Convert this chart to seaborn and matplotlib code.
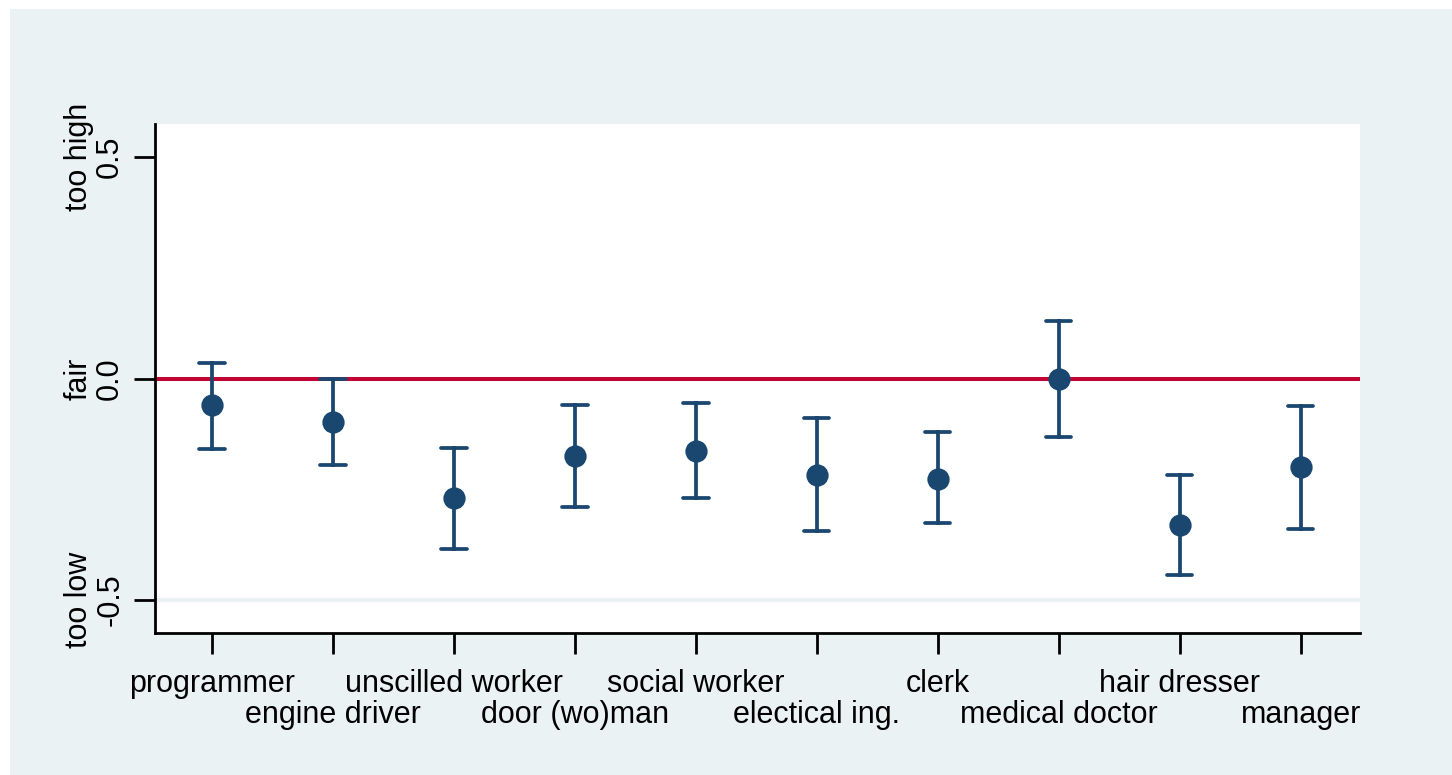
import matplotlib
matplotlib.use("Agg")
import matplotlib.pyplot as plt
import seaborn as sns
import pandas as pd

# occupation categories and estimated means with 95% CI bounds
jobs = ["programmer", "engine driver", "unscilled worker", "door (wo)man",
        "social worker", "electical ing.", "clerk", "medical doctor",
        "hair dresser", "manager"]
means = [-0.061, -0.099, -0.271, -0.174, -0.163, -0.219, -0.226, -0.002, -0.332, -0.201]
lower = [-0.160, -0.196, -0.386, -0.291, -0.271, -0.345, -0.327, -0.133, -0.445, -0.341]
upper = [0.036, 0.000, -0.158, -0.059, -0.056, -0.090, -0.122, 0.131, -0.219, -0.063]

ytick_vals = [-0.5, 0.0, 0.5]
ytick_text = ["too low\n-0.5", "fair\n0.0", "too high\n0.5"]

navy = "#1A476F"
red = "#C10534"
bg = "#EAF2F3"

# long table: point = median of (lower, mean, upper), bars = min/max
rows = []
for j, lo, m, up in zip(jobs, lower, means, upper):
    for v in (lo, m, up):
        rows.append({"job": j, "value": v})
df = pd.DataFrame(rows)

sns.set_style("white")
plt.rcParams["font.family"] = ["Liberation Sans", "DejaVu Sans"]
plt.rcParams["text.color"] = "black"
plt.rcParams["xtick.color"] = "black"
plt.rcParams["ytick.color"] = "black"

fig = plt.figure(figsize=(14.52, 7.75), dpi=100, facecolor="white")
fig.patches.append(plt.Rectangle((10 / 1452, 0), 1 - 10 / 1452, 1 - 9 / 775,
                                 transform=fig.transFigure, facecolor=bg,
                                 edgecolor="none", zorder=-10))
ax = fig.add_axes([155 / 1452, 1 - 633 / 775, 1205 / 1452, 509 / 775])
ax.set_facecolor("white")

ax.axhline(-0.5, color=bg, linewidth=3, zorder=0)
ax.axhline(0, color=red, linewidth=2.9, zorder=1)

sns.pointplot(data=df, x="job", y="value", order=jobs, estimator="median",
              errorbar=lambda v: (v.min(), v.max()), linestyle="none",
              markers="o", markersize=14, color=navy, capsize=0.21,
              err_kws={"linewidth": 2.7}, ax=ax, zorder=3)

ax.set_xlim(-0.47, 9.49)
ax.set_ylim(-0.575, 0.575)

ax.set_xticks(range(len(jobs)))
ax.set_xticklabels(jobs, fontsize=22, color="black")
ax.set_yticks(ytick_vals)
ax.set_yticklabels(ytick_text, rotation=90, fontsize=22, va="center",
                   ha="right", multialignment="center", linespacing=1.05,
                   color="black")
ax.tick_params(axis="x", length=15, width=2, color="black", pad=11,
               direction="out", bottom=True)
ax.tick_params(axis="y", length=15, width=2, color="black", pad=6.5,
               direction="out", left=True)
# staggered x labels: every second one sits one line lower
for i, t in enumerate(ax.xaxis.get_major_ticks()):
    if i % 2 == 1:
        t.set_pad(11 + 22.5)

ax.set_xlabel("")
ax.set_ylabel("")
for s in ["top", "right"]:
    ax.spines[s].set_visible(False)
for s in ["left", "bottom"]:
    ax.spines[s].set_color("black")
    ax.spines[s].set_linewidth(2)

fig.savefig("out.png", dpi=100, facecolor=fig.get_facecolor())
